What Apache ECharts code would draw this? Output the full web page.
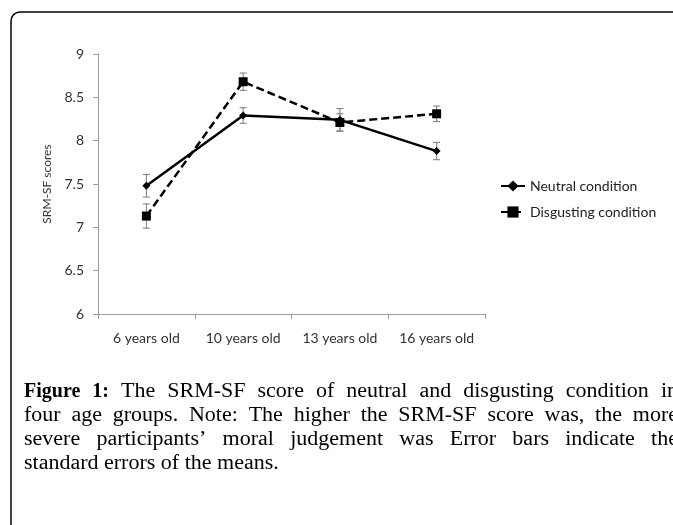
<!DOCTYPE html>
<html>
<head>
<meta charset="utf-8">
<script src="https://cdn.jsdelivr.net/npm/echarts@6/dist/echarts.min.js"></script>
<style>
html,body{margin:0;padding:0;background:#fff;}
#chart{width:673px;height:525px;}
</style>
</head>
<body>
<div id="chart"></div>
<script>
// ---- data ----
const categories = ['6 years old', '10 years old', '13 years old', '16 years old'];
const neutralMeans = [7.48, 8.29, 8.24, 7.88];
const neutralSE = [0.13, 0.09, 0.13, 0.10];
const disgustingMeans = [7.13, 8.68, 8.21, 8.31];
const disgustingSE = [0.14, 0.10, 0.10, 0.09];
const seriesNames = ['Neutral condition', 'Disgusting condition'];
const yAxisName = 'SRM-SF scores';
const captionLines = [
  {bold: ['Figure', '1:'], words: ['The', 'SRM-SF', 'score', 'of', 'neutral', 'and', 'disgusting', 'condition', 'in'], justify: true},
  {bold: [], words: ['four', 'age', 'groups.', 'Note:', 'The', 'higher', 'the', 'SRM-SF', 'score', 'was,', 'the', 'more'], justify: true},
  {bold: [], words: ['severe', 'participants\u2019', 'moral', 'judgement', 'was', 'Error', 'bars', 'indicate', 'the'], justify: true},
  {bold: [], words: ['standard', 'errors', 'of', 'the', 'means.'], justify: false}
];

// ---- build ----
const chart = echarts.init(document.getElementById('chart'));

function errData(means, se) {
  return means.map((m, i) => [i, m - se[i], m + se[i]]);
}

function renderErr(params, api) {
  const x = api.value(0), lo = api.value(1), hi = api.value(2);
  const pHi = api.coord([x, hi]);
  const pLo = api.coord([x, lo]);
  const h = 3.5;
  const st = {stroke: '#7a7a7a', lineWidth: 1};
  return {
    type: 'group',
    children: [
      {type: 'line', shape: {x1: pHi[0], y1: pHi[1], x2: pLo[0], y2: pLo[1]}, style: st},
      {type: 'line', shape: {x1: pHi[0] - h, y1: pHi[1], x2: pHi[0] + h, y2: pHi[1]}, style: st},
      {type: 'line', shape: {x1: pLo[0] - h, y1: pLo[1], x2: pLo[0] + h, y2: pLo[1]}, style: st}
    ]
  };
}

// caption as justified text
const serifSize = 20;
const serifScaleX = 1.1;
const boldScaleX = 1.0;
const serifFam = '"Liberation Serif", "Times New Roman", serif';
const measureCtx = document.createElement('canvas').getContext('2d');
function measure(word, bold) {
  measureCtx.font = (bold ? 'bold ' : '') + serifSize + 'px ' + serifFam;
  return measureCtx.measureText(word).width * (bold ? boldScaleX : serifScaleX);
}
const capLeft = 24, capRight = 678;
const capY = [392, 416, 440, 464];
const captionGraphics = [];
captionLines.forEach((line, li) => {
  const items = line.bold.map(w => ({w, b: true})).concat(line.words.map(w => ({w, b: false})));
  const widths = items.map(it => measure(it.w, it.b));
  const total = widths.reduce((a, b) => a + b, 0);
  const normalGap = measure(' ', false);
  const gap = line.justify ? (capRight - capLeft - total) / (items.length - 1) : normalGap;
  let x = capLeft;
  items.forEach((it, k) => {
    captionGraphics.push({
      type: 'text',
      x: x, y: capY[li],
      scaleX: it.b ? boldScaleX : serifScaleX,
      silent: true,
      style: {
        text: it.w,
        fontFamily: serifFam,
        fontSize: serifSize,
        fontWeight: it.b ? 'bold' : 'normal',
        fill: '#000',
        verticalAlign: 'middle',
        align: 'left'
      }
    });
    x += widths[k] + gap;
  });
});

const sansFam = 'Lato, "Open Sans", sans-serif';

const option = {
  animation: false,
  backgroundColor: '#fff',
  grid: {left: 98, top: 54, width: 387, height: 260},
  legend: {
    orient: 'vertical',
    left: 495,
    top: 174,
    itemWidth: 24,
    itemHeight: 14,
    itemGap: 12,
    data: seriesNames,
    textStyle: {fontFamily: sansFam, fontSize: 14, color: '#222'}
  },
  xAxis: {
    type: 'category',
    data: categories,
    boundaryGap: true,
    axisLine: {lineStyle: {color: '#9a9a9a', width: 1}},
    axisTick: {show: true, length: 5, interval: 0, lineStyle: {color: '#9a9a9a'}},
    axisLabel: {fontFamily: sansFam, fontSize: 14, color: '#333', margin: 17, interval: 0},
    splitLine: {show: false}
  },
  yAxis: {
    type: 'value',
    min: 6, max: 9, interval: 0.5,
    name: yAxisName,
    nameLocation: 'middle',
    nameGap: 44,
    nameTextStyle: {fontFamily: sansFam, fontSize: 12, color: '#333'},
    axisLine: {show: true, lineStyle: {color: '#9a9a9a', width: 1}},
    axisTick: {show: true, length: 5, lineStyle: {color: '#9a9a9a'}},
    axisLabel: {fontFamily: sansFam, fontSize: 14, color: '#333', margin: 14},
    splitLine: {show: false}
  },
  series: [
    {
      name: 'neutral-err', type: 'custom', renderItem: renderErr,
      data: errData(neutralMeans, neutralSE), z: 1, silent: true
    },
    {
      name: 'disgusting-err', type: 'custom', renderItem: renderErr,
      data: errData(disgustingMeans, disgustingSE), z: 1, silent: true
    },
    {
      name: seriesNames[0], type: 'line', data: neutralMeans, z: 3,
      symbol: 'diamond', symbolSize: 8,
      lineStyle: {color: '#000', width: 2.5, type: 'solid'},
      itemStyle: {color: '#000'}
    },
    {
      name: seriesNames[1], type: 'line', data: disgustingMeans, z: 2,
      symbol: 'rect', symbolSize: 9,
      lineStyle: {color: '#000', width: 2.5, type: [8, 4]},
      itemStyle: {color: '#000'}
    }
  ],
  graphic: [
    {
      type: 'rect',
      shape: {x: 11, y: 12, width: 720, height: 600, r: 9},
      style: {fill: 'none', stroke: '#000', lineWidth: 1.5},
      silent: true
    }
  ].concat(captionGraphics)
};
chart.setOption(option);
</script>
</body>
</html>
